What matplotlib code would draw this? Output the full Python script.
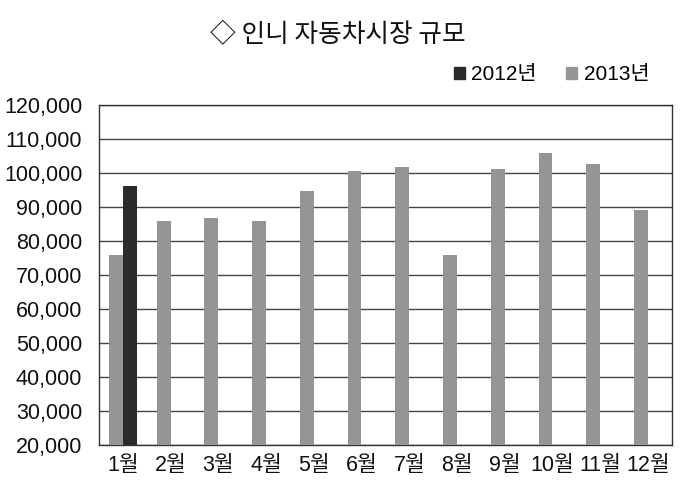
import numpy as np
import matplotlib.pyplot as plt
from matplotlib.patches import Patch
from matplotlib.ticker import FuncFormatter

plt.rcParams['font.family'] = ['Liberation Sans', 'Noto Sans CJK KR', 'DejaVu Sans']

months = ['1월', '2월', '3월', '4월', '5월', '6월', '7월', '8월', '9월', '10월', '11월', '12월']
sales_2012 = [96300, np.nan, np.nan, np.nan, np.nan, np.nan, np.nan, np.nan, np.nan, np.nan, np.nan, np.nan]
sales_2013 = [75900, 85900, 87000, 86000, 94900, 100600, 101800, 75900, 101200, 106100, 102800, 89100]

c2012 = '#2b2b2b'
c2013 = '#959595'

fig = plt.figure(figsize=(6.8, 4.86), dpi=100)
ax = fig.add_axes([0.1456, 0.0837, 0.8424, 0.6996])

x = np.arange(len(months))
w = 0.29
ax.bar(x - 0.147, sales_2013, width=w, color=c2013, zorder=3)
ax.bar(x + 0.147, sales_2012, width=w, color=c2012, zorder=3)

ax.set_xlim(-0.5, len(months) - 0.5)
ax.set_ylim(20000, 120000)
ax.set_yticks(np.arange(20000, 120001, 10000))
ax.yaxis.set_major_formatter(FuncFormatter(lambda v, p: f'{int(v):,}'))
ax.set_xticks(x)
ax.set_xticklabels(months)
ax.tick_params(axis='both', length=0, colors='#111111')
ax.tick_params(axis='y', pad=12, labelsize=15.5)
ax.tick_params(axis='x', pad=7, labelsize=15.5)
ax.grid(axis='y', color='#444444', linewidth=1.0, zorder=0)
for s in ax.spines.values():
    s.set_color('#333333')
    s.set_linewidth(1.0)

fig.text(0.497, 0.928, '◇ 인니 자동차시장 규모', ha='center', va='center',
         fontsize=18.5, family=['Noto Sans CJK KR', 'DejaVu Sans'], color='#111111')

handles = [Patch(color=c2012, label='2012년'), Patch(color=c2013, label='2013년')]
fig.legend(handles=handles, loc='center', bbox_to_anchor=(0.811, 0.846), ncol=2,
           frameon=False, fontsize=15, handlelength=0.55, handleheight=0.55,
           handletextpad=0.3, columnspacing=1.4)

fig.savefig('out.png', dpi=100, facecolor='white')
